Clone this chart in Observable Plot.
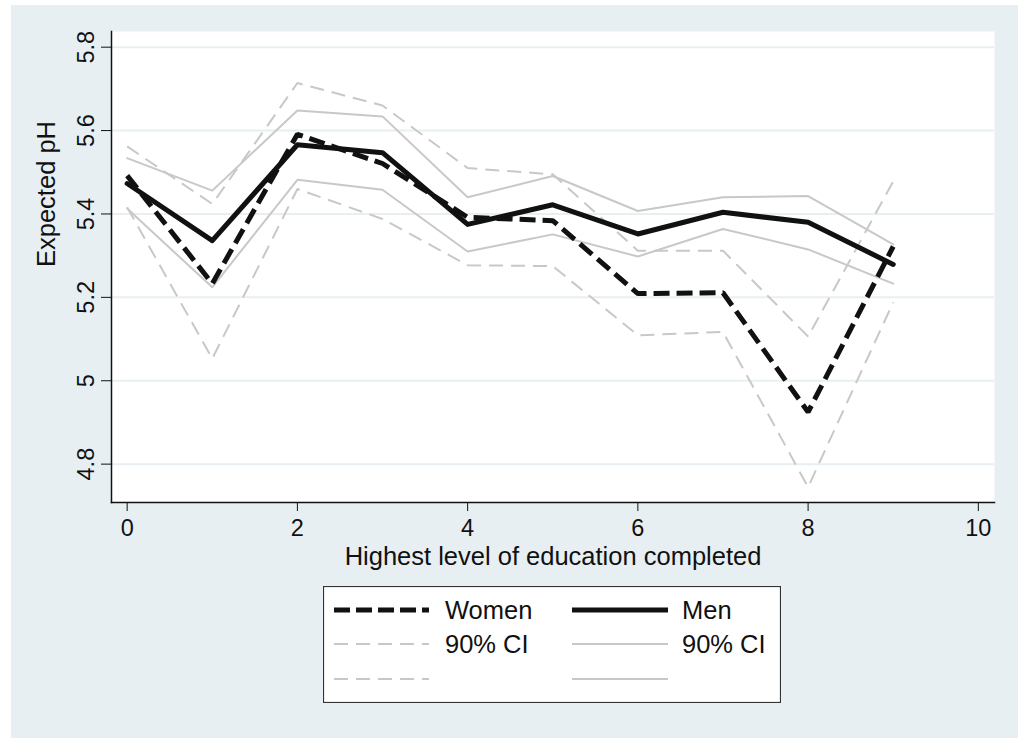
<!DOCTYPE html>
<html>
<head>
<meta charset="utf-8">
<script src="https://cdn.jsdelivr.net/npm/d3@7"></script>
<script src="https://cdn.jsdelivr.net/npm/@observablehq/plot@0.6"></script>
<style>
  html, body { margin: 0; padding: 0; background: #ffffff; }
  #page { position: relative; width: 1018px; height: 738px; overflow: hidden; background: #ffffff;
          font-family: "Liberation Sans", Arial, Helvetica, sans-serif; }
  #bg { position: absolute; left: 11px; top: 5px; right: 0; bottom: 0; background: #E8EFF2; }
  #chart { position: absolute; left: 0; top: 0; }
  #legend { position: absolute; left: 323px; top: 586px; }
</style>
</head>
<body>
<div id="page">
  <div id="bg"></div>
  <div id="chart"></div>
  <div id="legend"></div>
</div>
<script>
// ---- data ----
const education = [0, 1, 2, 3, 4, 5, 6, 7, 8, 9];
const women   = [5.492, 5.233, 5.591, 5.521, 5.392, 5.384, 5.209, 5.211, 4.925, 5.322];
const womenHi = [5.562, 5.424, 5.714, 5.660, 5.510, 5.495, 5.312, 5.312, 5.106, 5.478];
const womenLo = [5.416, 5.053, 5.460, 5.388, 5.277, 5.275, 5.109, 5.117, 4.745, 5.188];
const men     = [5.473, 5.336, 5.566, 5.547, 5.375, 5.422, 5.352, 5.404, 5.380, 5.279];
const menHi   = [5.534, 5.456, 5.648, 5.634, 5.440, 5.491, 5.407, 5.440, 5.443, 5.327];
const menLo   = [5.413, 5.224, 5.482, 5.458, 5.310, 5.351, 5.298, 5.364, 5.315, 5.233];

const xTicks = [0, 2, 4, 6, 8, 10];
const yTicks = [4.8, 5, 5.2, 5.4, 5.6, 5.8];
const yTickLabels = ["4.8", "5", "5.2", "5.4", "5.6", "5.8"];
const xTitle = "Highest level of education completed";
const yTitle = "Expected pH";
const legendLabels = ["Women", "Men", "90% CI", "90% CI"];

const FONT = "'Liberation Sans', Arial, Helvetica, sans-serif";
const gray = "#C8C8C8";
const black = "#111111";

const series = (vals) => education.map((e, i) => ({x: e, y: vals[i]}));

const chart = Plot.plot({
  width: 1018,
  height: 578,
  marginLeft: 111,
  marginRight: 24,
  marginTop: 31,
  marginBottom: 76,
  x: {domain: [-0.184, 10.19]},
  y: {domain: [4.708, 5.8376]},
  style: {background: "transparent", fontFamily: FONT, fontSize: "24px", color: black, overflow: "visible"},
  marks: [
    Plot.frame({fill: "white", stroke: null}),
    Plot.gridY(yTicks, {stroke: "#E8EFF2", strokeOpacity: 1, strokeWidth: 2}),
    Plot.axisY(yTicks, {tickSize: 10, tickPadding: 8, tickRotate: -90, label: null,
      tickFormat: (d) => yTickLabels[yTicks.indexOf(d)], stroke: black, fill: black, fontSize: 23.5}),
    Plot.axisX(xTicks, {tickSize: 9, tickPadding: 8, label: null, stroke: black, fill: black, fontSize: 23.5}),
    Plot.frame({anchor: "left", stroke: black, strokeWidth: 1.5}),
    Plot.frame({anchor: "bottom", stroke: black, strokeWidth: 1.5}),
    // confidence bands
    Plot.line(series(womenHi), {x: "x", y: "y", stroke: gray, strokeWidth: 2, strokeDasharray: "14,8", strokeLinecap: "butt", strokeLinejoin: "miter"}),
    Plot.line(series(womenLo), {x: "x", y: "y", stroke: gray, strokeWidth: 2, strokeDasharray: "14,8", strokeLinecap: "butt", strokeLinejoin: "miter"}),
    Plot.line(series(menHi), {x: "x", y: "y", stroke: gray, strokeWidth: 2, strokeLinejoin: "miter"}),
    Plot.line(series(menLo), {x: "x", y: "y", stroke: gray, strokeWidth: 2, strokeLinejoin: "miter"}),
    // estimates
    Plot.line(series(men), {x: "x", y: "y", stroke: black, strokeWidth: 5, strokeLinejoin: "round"}),
    Plot.line(series(women), {x: "x", y: "y", stroke: black, strokeWidth: 5, strokeDasharray: "16,7", strokeLinecap: "butt", strokeLinejoin: "miter"}),
    // axis titles
    Plot.text([xTitle], {frameAnchor: "bottom", lineAnchor: "top", dy: 44, fontSize: 25.5, fill: black}),
    Plot.text([yTitle], {frameAnchor: "left", rotate: -90, dx: -65, fontSize: 25.5, fill: black})
  ]
});
document.getElementById("chart").appendChild(chart);

// ---- legend ----
const lw = 458, lh = 117;
const leg = d3.select("#legend").append("svg")
  .attr("width", lw).attr("height", lh)
  .style("font-family", FONT).style("font-size", "25.5px");
leg.append("rect").attr("x", 0.5).attr("y", 0.5).attr("width", lw - 1).attr("height", lh - 1)
  .attr("fill", "white").attr("stroke", "#333").attr("stroke-width", 1.2);
const keys = [
  {x1: 11, x2: 106, y: 24, stroke: black, w: 5, dash: "16,6", label: legendLabels[0], lx: 122},
  {x1: 249, x2: 345, y: 24, stroke: black, w: 5, dash: null, label: legendLabels[1], lx: 359},
  {x1: 11, x2: 106, y: 58, stroke: gray, w: 2, dash: "14,8", label: legendLabels[2], lx: 122},
  {x1: 249, x2: 345, y: 58, stroke: gray, w: 2, dash: null, label: legendLabels[3], lx: 359},
  {x1: 11, x2: 106, y: 93, stroke: gray, w: 2, dash: "14,8", label: null},
  {x1: 249, x2: 345, y: 93, stroke: gray, w: 2, dash: null, label: null}
];
for (const k of keys) {
  leg.append("line").attr("x1", k.x1).attr("x2", k.x2).attr("y1", k.y).attr("y2", k.y)
    .attr("stroke", k.stroke).attr("stroke-width", k.w)
    .attr("stroke-dasharray", k.dash).attr("stroke-linecap", "butt");
  if (k.label) leg.append("text").attr("x", k.lx).attr("y", k.y + 9).attr("fill", black).text(k.label);
}
</script>
</body>
</html>
